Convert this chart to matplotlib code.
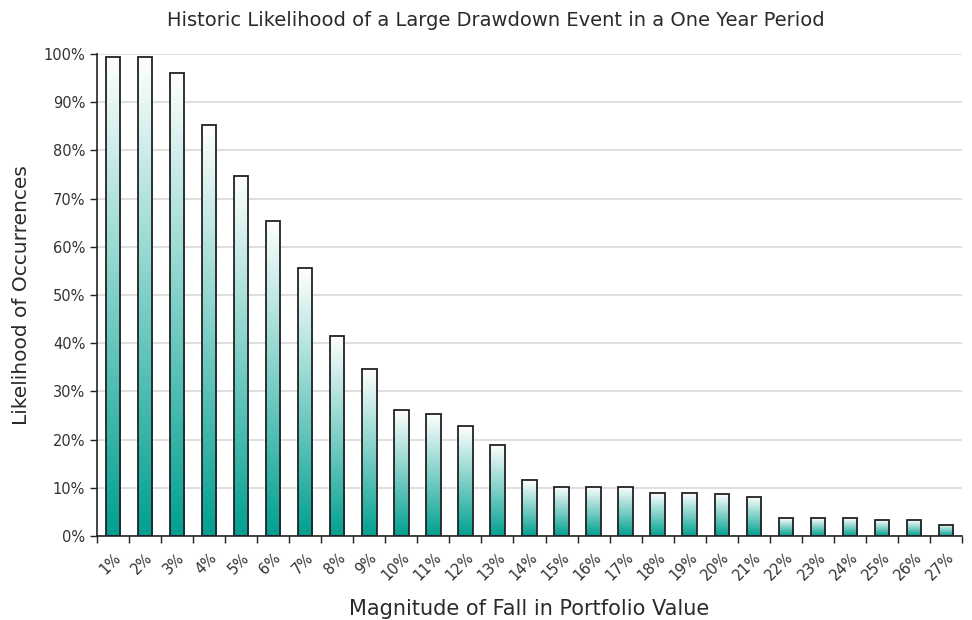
import matplotlib
matplotlib.use("Agg")
import matplotlib.pyplot as plt
import numpy as np
from matplotlib.colors import LinearSegmentedColormap
from matplotlib.ticker import FixedLocator, PercentFormatter

categories = [f"{i}%" for i in range(1, 28)]
values = [99.4, 99.4, 96.1, 85.3, 74.7, 65.4, 55.6, 41.5, 34.6, 26.1, 25.3, 22.8,
          18.9, 11.6, 10.2, 10.2, 10.2, 8.9, 8.9, 8.7, 8.1, 3.7, 3.7, 3.7, 3.3, 3.3, 2.3]

plt.rcParams['font.family'] = ['DejaVu Sans']

fig = plt.figure(figsize=(9.72, 6.2), dpi=100)
ax = fig.add_axes([0.0998, 0.1355, 0.8899, 0.7774])

x = np.arange(len(categories))
bars = ax.bar(x, values, width=0.45, facecolor='none', edgecolor='#222222',
              linewidth=1.3, zorder=3)

cmap = LinearSegmentedColormap.from_list('tealgrad', ['#00a090', '#7fd0c8', '#ffffff'])
grad = np.linspace(0, 1, 256).reshape(-1, 1)
for b in bars:
    x0 = b.get_x(); w = b.get_width(); h = b.get_height()
    ax.imshow(grad, extent=[x0, x0 + w, 0, h], origin='lower', cmap=cmap,
              aspect='auto', zorder=2, interpolation='bilinear')

ax.set_xlim(-0.5, len(categories) - 0.5)
ax.set_ylim(0, 100)
ax.set_yticks(np.arange(0, 101, 10))
ax.yaxis.set_major_formatter(PercentFormatter(decimals=0))
ax.set_xticks(x)
ax.set_xticklabels(categories, rotation=45, ha='right', rotation_mode='anchor')
ax.xaxis.set_minor_locator(FixedLocator(np.arange(-0.5, len(categories), 1)))
ax.tick_params(axis='x', which='major', length=0, pad=10, labelsize=10.5, labelcolor='#333333')
ax.tick_params(axis='x', which='minor', length=5, width=1, color='#222222')
ax.tick_params(axis='y', which='major', length=5, width=1, labelsize=10.5,
               color='#222222', labelcolor='#333333')

ax.grid(axis='y', color='#d9d9d9', linewidth=1.2, zorder=0)
ax.set_axisbelow(True)
for s in ['top', 'right']:
    ax.spines[s].set_visible(False)
for s in ['left', 'bottom']:
    ax.spines[s].set_color('#222222')
    ax.spines[s].set_linewidth(1.2)

ax.set_title('Historic Likelihood of a Large Drawdown Event in a One Year Period',
             fontsize=14, color='#2a2a2a', pad=20, x=0.461)
ax.set_ylabel('Likelihood of Occurrences', fontsize=14.5, color='#2a2a2a', labelpad=9)
ax.set_xlabel('Magnitude of Fall in Portfolio Value', fontsize=15, color='#2a2a2a', labelpad=11)

fig.savefig('out.png', dpi=100)
